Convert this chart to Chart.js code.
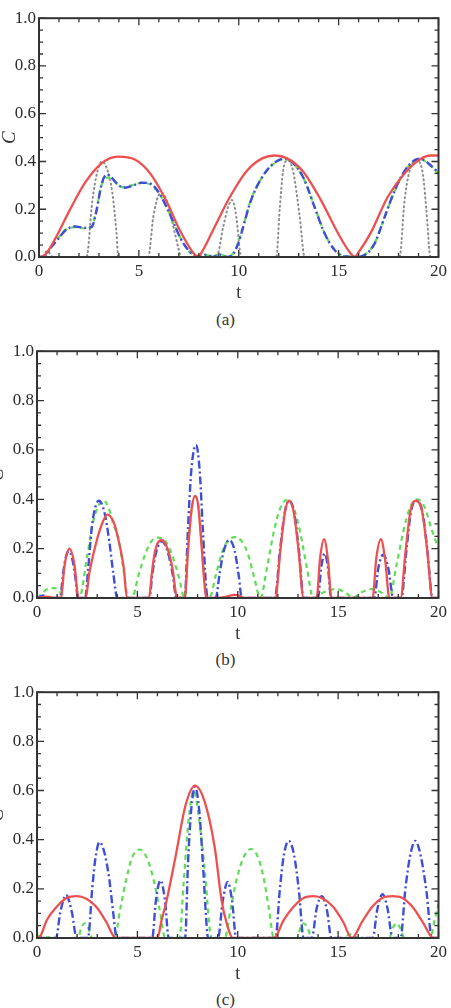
<!DOCTYPE html>
<html>
<head>
<meta charset="utf-8">
<script src="https://cdn.jsdelivr.net/npm/chart.js@4.4.1/dist/chart.umd.min.js"></script>
<style>
  body { margin: 0; background: #fff; width: 451px; height: 1008px; overflow: hidden; position: relative; font-family: "Liberation Serif", serif; }
  .panel { position: absolute; }
  .cap { position: absolute; left: 0; width: 451px; height: 20px; line-height: 20px; text-align: center; font-size: 17px; color: #333; }
</style>
</head>
<body>
<div class="panel" style="left:0;top:5px;width:451px;height:302px"><canvas id="ca"></canvas></div>
<div class="cap" style="top:310px">(a)</div>
<div class="panel" style="left:-2px;top:338px;width:453px;height:310px"><canvas id="cb"></canvas></div>
<div class="cap" style="top:650px">(b)</div>
<div class="panel" style="left:-2px;top:679px;width:453px;height:309px"><canvas id="cc"></canvas></div>
<div class="cap" style="top:990px">(c)</div>

<script>
/* DATA: [t, C] pairs */
const xTicks = [0, 5, 10, 15, 20];
const yTicks = [0, 0.2, 0.4, 0.6, 0.8, 1.0];

// panel (a)
const aRed = [[0,0],[0.25,0.005],[0.8,0.075],[1.5,0.19],[2.3,0.31],[3.1,0.39],[3.95,0.42],[4.8,0.408],[5.6,0.346],[6.45,0.222],[7.0,0.12],[7.5,0.045],[7.75,0.015],[7.95,0],[8.15,0.02],[8.7,0.11],[9.55,0.25],[10.4,0.36],[11.2,0.414],[11.8,0.425],[12.4,0.414],[13.2,0.36],[14.1,0.24],[14.9,0.11],[15.35,0.045],[15.6,0.015],[15.8,0],[16.0,0.02],[16.6,0.1],[17.45,0.25],[18.3,0.35],[19.1,0.41],[19.6,0.425],[20,0.425]];
const aBlue = [[0,0],[0.22,0],[0.63,0.043],[0.97,0.077],[1.3,0.11],[1.8,0.128],[2.3,0.122],[2.63,0.125],[2.88,0.194],[3.13,0.304],[3.4,0.346],[3.6,0.335],[3.97,0.302],[4.25,0.29],[4.63,0.297],[5.13,0.311],[5.55,0.308],[6.05,0.263],[6.47,0.194],[6.8,0.132],[7.05,0.084],[7.55,0.022],[7.97,0.003],[8.38,0.01],[8.7,0],[9.05,0.01],[9.38,0],[9.72,0.012],[9.97,0.056],[10.22,0.125],[10.55,0.222],[10.88,0.29],[11.38,0.36],[11.88,0.4],[12.3,0.412],[12.72,0.394],[13.25,0.33],[13.8,0.208],[14.3,0.098],[14.8,0.029],[15.3,0.002],[15.8,0],[16.3,0.008],[16.8,0.056],[17.3,0.167],[17.8,0.277],[18.3,0.36],[18.8,0.405],[19.05,0.412],[19.47,0.394],[20,0.352]];
const aGreen = [[0,0],[0.22,0.002],[0.63,0.045],[0.97,0.08],[1.3,0.112],[1.8,0.125],[2.3,0.12],[2.63,0.128],[2.88,0.2],[3.13,0.3],[3.4,0.332],[3.6,0.33],[3.97,0.3],[4.25,0.292],[4.63,0.3],[5.13,0.31],[5.55,0.305],[6.05,0.262],[6.47,0.195],[6.8,0.13],[7.05,0.085],[7.55,0.02],[7.97,0.005],[8.38,0.008],[8.7,0.002],[9.05,0.012],[9.38,0.002],[9.72,0.015],[9.97,0.06],[10.22,0.128],[10.55,0.225],[10.88,0.292],[11.38,0.358],[11.88,0.398],[12.3,0.41],[12.72,0.393],[13.25,0.328],[13.8,0.21],[14.3,0.1],[14.8,0.03],[15.3,0.004],[15.8,0.002],[16.3,0.01],[16.8,0.058],[17.3,0.165],[17.8,0.275],[18.3,0.358],[18.8,0.403],[19.05,0.41],[19.47,0.392],[20,0.35]];
const aGray = [[0,0],[0.15,0],[0.4,0.025],[0.7,0],[2.38,0],[2.67,0.235],[2.93,0.36],[3.15,0.4],[3.4,0.37],[3.67,0.27],[3.88,0.1],[3.97,0],[5.47,0],[5.72,0.167],[5.97,0.256],[6.15,0.268],[6.35,0.245],[6.55,0.19],[6.8,0.1],[7.0,0.03],[7.1,0],[8.88,0],[9.22,0.125],[9.47,0.21],[9.67,0.238],[9.88,0.167],[10.05,0.03],[10.12,0],[11.88,0],[12.05,0.2],[12.22,0.36],[12.45,0.405],[12.72,0.36],[13.05,0.17],[13.3,0],[18.05,0],[18.3,0.236],[18.55,0.36],[18.88,0.405],[19.22,0.346],[19.4,0.19],[19.6,0],[20,0]];

// panel (b)
const bRed = [[0,0],[0.5,0.005],[0.9,0],[1.2,0],[1.36,0.124],[1.61,0.2],[1.86,0.138],[2.07,0],[2.43,0],[2.6,0.098],[2.93,0.218],[3.17,0.285],[3.5,0.338],[3.83,0.305],[4.07,0.231],[4.32,0.124],[4.48,0],[5.58,0],[5.72,0.1],[5.88,0.19],[6.2,0.235],[6.5,0.2],[6.75,0.12],[6.98,0],[7.36,0],[7.52,0.19],[7.69,0.352],[7.87,0.414],[8.02,0.38],[8.18,0.23],[8.35,0.05],[8.43,0],[9.0,0],[9.4,0.005],[9.85,0.013],[10.1,0.008],[10.3,0],[11.87,0],[12.12,0.19],[12.36,0.352],[12.56,0.394],[12.78,0.352],[13.02,0.2],[13.28,0],[13.93,0],[14.1,0.16],[14.3,0.238],[14.5,0.15],[14.66,0],[16.72,0],[16.9,0.16],[17.13,0.238],[17.35,0.15],[17.55,0],[18.11,0],[18.36,0.19],[18.6,0.352],[18.85,0.394],[19.18,0.352],[19.43,0.2],[19.7,0],[20,0]];
const bBlue = [[0,0],[0.3,0.01],[0.6,0],[1.15,0],[1.3,0.1],[1.45,0.17],[1.6,0.19],[1.75,0.16],[1.9,0.09],[2.05,0],[2.4,0],[2.55,0.12],[2.75,0.3],[3.08,0.394],[3.35,0.35],[3.6,0.23],[3.8,0.1],[4.0,0],[5.6,0],[5.75,0.1],[5.95,0.19],[6.22,0.23],[6.5,0.19],[6.75,0.1],[6.95,0],[7.36,0],[7.52,0.28],[7.69,0.52],[7.92,0.62],[8.1,0.52],[8.26,0.28],[8.43,0.04],[8.5,0],[8.9,0],[9.1,0.1],[9.3,0.19],[9.58,0.235],[9.85,0.19],[10.05,0.09],[10.2,0],[11.85,0],[12.1,0.19],[12.35,0.35],[12.56,0.394],[12.8,0.35],[13.05,0.19],[13.28,0],[14.0,0],[14.15,0.12],[14.33,0.18],[14.5,0.12],[14.65,0],[16.8,0],[17.0,0.12],[17.25,0.175],[17.5,0.12],[17.75,0],[18.15,0],[18.4,0.19],[18.63,0.35],[18.88,0.394],[19.2,0.35],[19.45,0.19],[19.7,0],[20,0]];
const bGreen = [[0,0],[0.15,0.01],[0.5,0.035],[0.9,0.04],[1.2,0.02],[1.5,0],[2.1,0],[2.5,0.17],[2.8,0.31],[3.1,0.38],[3.3,0.395],[3.55,0.37],[3.8,0.3],[4.07,0.235],[4.3,0.12],[4.55,0],[4.73,0],[5.05,0.09],[5.4,0.18],[5.7,0.23],[6.04,0.245],[6.4,0.23],[6.7,0.18],[7.05,0.09],[7.36,0],[7.52,0.19],[7.69,0.35],[7.88,0.41],[8.05,0.37],[8.2,0.22],[8.38,0.05],[8.5,0],[8.59,0],[8.9,0.09],[9.2,0.18],[9.5,0.23],[9.85,0.247],[10.2,0.23],[10.5,0.18],[10.8,0.09],[11.13,0],[11.45,0.12],[11.8,0.27],[12.1,0.36],[12.45,0.398],[12.8,0.36],[13.1,0.27],[13.45,0.12],[13.76,0],[14.2,0.02],[14.9,0.036],[15.4,0.02],[15.75,0],[16.1,0.02],[16.7,0.036],[17.2,0.02],[17.55,0],[17.9,0.13],[18.25,0.27],[18.6,0.37],[18.93,0.4],[19.3,0.37],[19.65,0.28],[20,0.2]];

// panel (c)
const cRed = [[0,0],[0.15,0.005],[0.49,0.073],[0.98,0.127],[1.48,0.163],[1.97,0.17],[2.46,0.16],[2.95,0.127],[3.44,0.067],[3.93,0],[6.0,0],[6.2,0.07],[6.45,0.15],[6.9,0.33],[7.4,0.54],[7.87,0.62],[8.35,0.555],[8.85,0.37],[9.2,0.15],[9.45,0.06],[9.75,0],[11.8,0],[12.29,0.073],[12.78,0.127],[13.28,0.163],[13.77,0.17],[14.26,0.16],[14.75,0.127],[15.24,0.067],[15.68,0],[16.2,0.067],[16.7,0.127],[17.2,0.163],[17.7,0.17],[18.2,0.163],[18.7,0.127],[19.2,0.067],[19.75,0],[20,0]];
const cBlue = [[0,0],[0.95,0],[1.15,0.1],[1.45,0.175],[1.75,0.1],[1.97,0],[2.54,0],[2.75,0.2],[2.92,0.33],[3.12,0.39],[3.35,0.35],[3.6,0.24],[3.8,0.1],[3.97,0],[5.74,0],[5.92,0.15],[6.15,0.234],[6.38,0.15],[6.56,0],[7.38,0],[7.52,0.3],[7.68,0.52],[7.88,0.615],[8.08,0.52],[8.28,0.28],[8.45,0.05],[8.52,0],[9.02,0],[9.25,0.15],[9.5,0.228],[9.72,0.15],[9.92,0],[11.88,0],[12.1,0.2],[12.3,0.34],[12.54,0.395],[12.8,0.34],[13.05,0.19],[13.28,0],[13.69,0],[13.93,0.12],[14.18,0.17],[14.43,0.12],[14.67,0],[16.72,0],[16.96,0.12],[17.21,0.178],[17.46,0.12],[17.71,0],[18.11,0],[18.35,0.2],[18.6,0.34],[18.85,0.395],[19.1,0.34],[19.4,0.19],[19.67,0],[20,0]];
const cGreen = [[0,0.01],[0.4,0.005],[0.8,0],[2.05,0],[2.2,0.04],[2.38,0.06],[2.56,0.04],[2.75,0],[3.85,0],[4.15,0.12],[4.45,0.24],[4.75,0.33],[5.1,0.36],[5.45,0.33],[5.8,0.24],[6.1,0.12],[6.39,0],[7.1,0],[7.3,0.22],[7.55,0.48],[7.8,0.6],[8.05,0.5],[8.35,0.28],[8.7,0],[9.35,0],[9.65,0.12],[9.95,0.24],[10.3,0.33],[10.66,0.362],[11.0,0.33],[11.3,0.24],[11.55,0.12],[11.8,0],[12.95,0],[13.12,0.04],[13.28,0.06],[13.48,0.04],[13.7,0],[15.2,0],[15.6,0.015],[16.0,0],[17.55,0],[17.72,0.04],[17.9,0.06],[18.1,0.04],[18.3,0],[19.6,0],[19.8,0.07],[20,0.14]];

/* STYLES */
const serif = '"Liberation Serif", "Times New Roman", serif';
const styles = {
    red:   { borderColor: "#ee5050", borderWidth: 2.3 },
    blue:  { borderColor: "#3e4ed8", borderWidth: 2.4, borderDash: [8, 3, 2, 3] },
    green: { borderColor: "#5ede55", borderWidth: 2.2, borderDash: [5, 4] },
    gray:  { borderColor: "#8c8c8c", borderWidth: 2, borderDash: [1, 3.5], borderCapStyle: "round" }
};

/* FRAME, INWARD TICKS, AXIS NAMES */
const frame = {
    id: "frame",
    afterDatasetsDraw(chart, args, o) {
        const { ctx, chartArea: a, scales: { x, y } } = chart;
        ctx.save();
        ctx.strokeStyle = "#333";
        ctx.lineWidth = 1.3;
        ctx.beginPath();
        for (let i = 0; i <= 20; i++) {
            const px = x.getPixelForValue(i);
            const len = i % 5 === 0 ? 7 : 4;
            ctx.moveTo(px, a.bottom); ctx.lineTo(px, a.bottom - len);
            ctx.moveTo(px, a.top); ctx.lineTo(px, a.top + len);
        }
        for (let i = 0; i <= 20; i++) {
            const py = y.getPixelForValue(i * 0.05);
            const len = i % 4 === 0 ? 7 : 4;
            ctx.moveTo(a.left, py); ctx.lineTo(a.left + len, py);
            ctx.moveTo(a.right, py); ctx.lineTo(a.right - len, py);
        }
        ctx.stroke();
        ctx.lineWidth = 2;
        ctx.strokeRect(a.left, a.top, a.right - a.left, a.bottom - a.top);

        ctx.fillStyle = "#333";
        ctx.textAlign = "center";
        ctx.textBaseline = "middle";
        ctx.font = "18px " + serif;
        ctx.fillText("t", (a.left + a.right) / 2, a.bottom + 36);
        ctx.translate(o.cx, (a.top + a.bottom) / 2);
        ctx.rotate(-Math.PI / 2);
        ctx.font = "italic 19px " + serif;
        ctx.fillText("C", 0, 0);
        ctx.restore();
    }
};

function makePanel(id, series, padRight, cx) {
    new Chart(document.getElementById(id), {
        type: "scatter",
        data: {
            datasets: series.map(([pts, kind]) => Object.assign({
                data: pts.map(p => ({ x: p[0], y: p[1] })),
                showLine: true,
                pointRadius: 0,
                fill: false,
                cubicInterpolationMode: "monotone"
            }, styles[kind]))
        },
        options: {
            responsive: true,
            maintainAspectRatio: false,
            animation: false,
            layout: { padding: { left: 0, top: 10, right: padRight, bottom: 0 } },
            plugins: { legend: { display: false }, tooltip: { enabled: false }, frame: { cx: cx } },
            scales: {
                x: {
                    type: "linear", min: 0, max: 20,
                    afterBuildTicks: s => { s.ticks = xTicks.map(v => ({ value: v })); },
                    afterFit: s => { s.height = 50; },
                    grid: { display: false, drawTicks: false },
                    border: { display: false },
                    ticks: { padding: 4, color: "#2a2a2a", font: { family: serif, size: 17 }, maxRotation: 0 }
                },
                y: {
                    type: "linear", min: 0, max: 1,
                    afterBuildTicks: s => { s.ticks = yTicks.map(v => ({ value: v })); },
                    afterFit: s => { s.width = 39; },
                    grid: { display: false, drawTicks: false },
                    border: { display: false },
                    ticks: { padding: 3, color: "#2a2a2a", font: { family: serif, size: 17 },
                             callback: v => v.toFixed(1) }
                }
            }
        },
        plugins: [frame]
    });
}

function drawAll() {
    makePanel("ca", [[aRed, "red"], [aBlue, "blue"], [aGreen, "green"], [aGray, "gray"]], 12, 10);
    makePanel("cb", [[bRed, "red"], [bBlue, "blue"], [bGreen, "green"]], 8, 0);
    makePanel("cc", [[cRed, "red"], [cBlue, "blue"], [cGreen, "green"]], 8, 0);
}

Promise.race([
    Promise.all([document.fonts.load('17px "Liberation Serif"'), document.fonts.load('italic 19px "Liberation Serif"')]),
    new Promise(r => setTimeout(r, 500))
]).then(drawAll, drawAll);
</script>
</body>
</html>
